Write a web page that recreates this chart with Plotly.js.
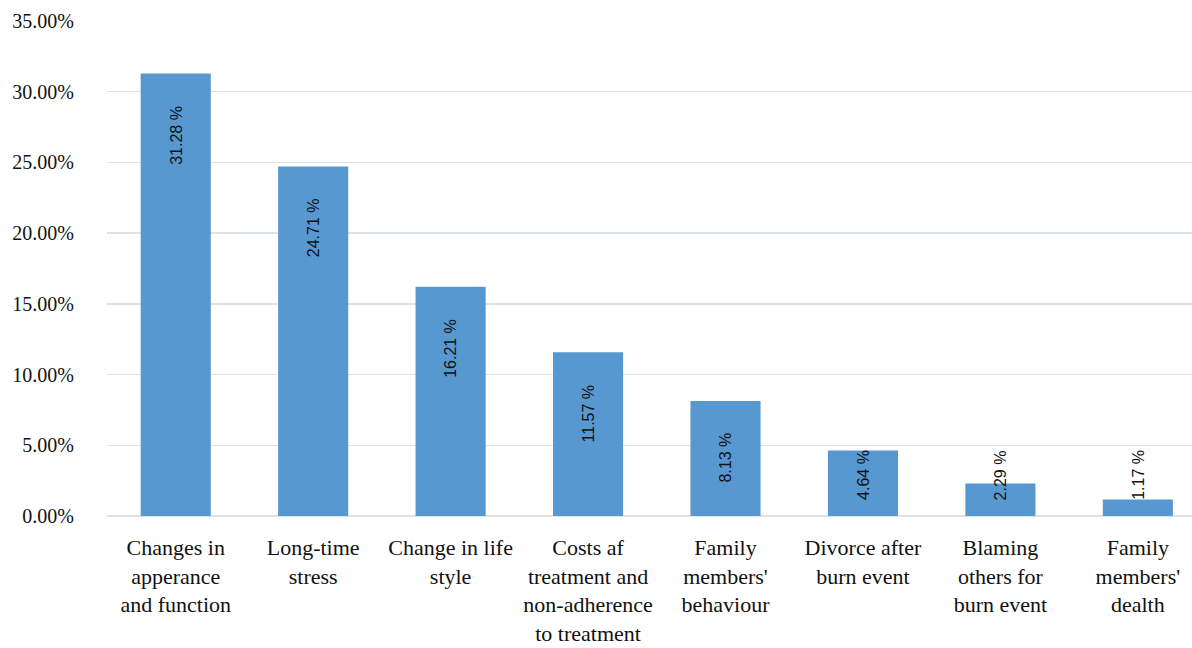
<!DOCTYPE html>
<html>
<head>
<meta charset="utf-8">
<script src="https://cdn.plot.ly/plotly-3.0.1.min.js"></script>
<style>html,body{margin:0;padding:0;background:#fff;}#chart{width:1192px;height:648px;}</style>
</head>
<body>
<div id="chart"></div>
<script>
const categories = [
  "Changes in<br>apperance<br>and function",
  "Long-time<br>stress",
  "Change in life<br>style",
  "Costs af<br>treatment and<br>non-adherence<br>to treatment",
  "Family<br>members'<br>behaviour",
  "Divorce after<br>burn event",
  "Blaming<br>others for<br>burn event",
  "Family<br>members'<br>dealth"
];
const values = [31.28, 24.71, 16.21, 11.57, 8.13, 4.64, 2.29, 1.17];
const valueLabels = ["31.28 %", "24.71 %", "16.21 %", "11.57 %", "8.13 %", "4.64 %", "2.29 %", "1.17 %"];
const yTicks = [0, 5, 10, 15, 20, 25, 30, 35];

const xs = categories.map((c, i) => i);

const trace = {
  type: 'bar',
  x: xs,
  y: values,
  marker: {color: '#5898d1', line: {width: 0}},
  hoverinfo: 'skip'
};

const annotations = values.map((v, i) => {
  const small = v < 7.5;
  return {
    x: i, y: small ? 0 : v,
    xref: 'x', yref: 'y',
    text: valueLabels[i],
    showarrow: false,
    textangle: -90,
    xanchor: 'center',
    yanchor: small ? 'bottom' : 'top',
    yshift: small ? 14 : -30,
    font: {family: 'Liberation Sans, Arial, sans-serif', size: 16, color: '#111'}
  };
});

const layout = {
  width: 1192, height: 648,
  margin: {l: 107, r: 0, t: 21, b: 132},
  paper_bgcolor: '#fff', plot_bgcolor: '#fff',
  showlegend: false,
  bargap: 0.49,
  font: {family: 'Liberation Serif, serif', color: '#111'},
  xaxis: {
    range: [-0.5, 7.394],
    tickvals: xs,
    ticktext: categories,
    showgrid: false, zeroline: false, showline: false,
    ticks: '',
    ticklabelstandoff: 16,
    tickfont: {family: 'Liberation Serif, serif', size: 22, color: '#111'}
  },
  yaxis: {
    range: [0, 35],
    tickvals: yTicks,
    ticktext: yTicks.map(t => t.toFixed(2) + '%'),
    showgrid: true, gridcolor: '#dde2ea', gridwidth: 1.5,
    zeroline: true, zerolinecolor: '#dde2ea', zerolinewidth: 1.5,
    showline: false, ticks: '',
    ticklabelstandoff: 32,
    tickfont: {family: 'Liberation Serif, serif', size: 20, color: '#111'}
  },
  annotations: annotations
};

Plotly.newPlot('chart', [trace], layout, {staticPlot: true, displayModeBar: false});
</script>
</body>
</html>
